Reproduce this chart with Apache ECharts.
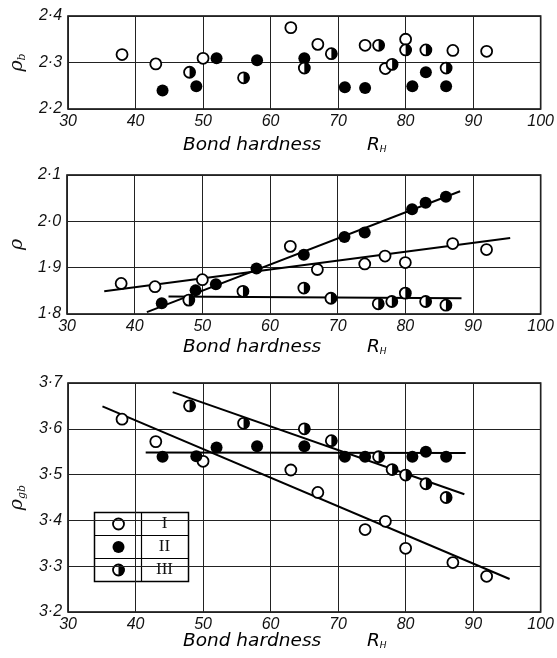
<!DOCTYPE html>
<html>
<head>
<meta charset="utf-8">
<script src="https://cdn.jsdelivr.net/npm/echarts@6/dist/echarts.min.js"></script>
<style>
  html, body { margin: 0; padding: 0; background: #fff; }
  #chart { width: 557px; height: 658px; }
</style>
</head>
<body>
<div id="chart"></div>
<script>
  // bond hardness R_H of the samples in each group
  const hardI = [38, 43, 50, 63, 67, 74, 77, 80, 87, 92];
  const hardII = [44, 49, 52, 58, 65, 71, 74, 81, 83, 86];
  const hardIII = [48, 56, 65, 69, 76, 78, 80, 83, 86];

  // top panel: rho_b
  const rhoBI = [2.317, 2.297, 2.309, 2.375, 2.339, 2.337, 2.287, 2.35, 2.326, 2.324];
  const rhoBII = [2.24, 2.249, 2.309, 2.305, 2.309, 2.247, 2.245, 2.249, 2.279, 2.249];
  const rhoBIII = [2.279, 2.267, 2.288, 2.319, 2.337, 2.296, 2.327, 2.327, 2.288];

  // middle panel: rho
  const rhoI = [1.866, 1.859, 1.874, 1.946, 1.896, 1.908, 1.925, 1.911, 1.952, 1.939];
  const rhoII = [1.823, 1.851, 1.864, 1.898, 1.928, 1.966, 1.976, 2.026, 2.04, 2.053];
  const rhoIII = [1.83, 1.849, 1.856, 1.834, 1.822, 1.827, 1.845, 1.827, 1.819];

  // bottom panel: rho_gb
  const rhoGbI = [3.621, 3.572, 3.529, 3.51, 3.461, 3.38, 3.398, 3.339, 3.308, 3.278];
  const rhoGbII = [3.539, 3.54, 3.559, 3.562, 3.562, 3.539, 3.539, 3.539, 3.55, 3.539];
  const rhoGbIII = [3.65, 3.612, 3.6, 3.574, 3.539, 3.511, 3.499, 3.48, 3.45];

  // hand drawn fit lines, end points [R_H, value]
  const fitRhoI = [[35.5, 1.849], [95.5, 1.964]];
  const fitRhoII = [[41.8, 1.804], [88.1, 2.065]];
  const fitRhoIII = [[45, 1.838], [88.3, 1.834]];
  const fitGbI = [[35.1, 3.649], [95.4, 3.272]];
  const fitGbII = [[41.5, 3.548], [88.9, 3.547]];
  const fitGbIII = [[45.5, 3.68], [88.7, 3.457]];

  // tick labels
  const xTickLabels = ['30', '40', '50', '60', '70', '80', '90', '100'];
  const yTicksB = [2.2, 2.3, 2.4];
  const yLabelsB = ['2·2', '2·3', '2·4'];
  const yTicksRho = [1.8, 1.9, 2.0, 2.1];
  const yLabelsRho = ['1·8', '1·9', '2·0', '2·1'];
  const yTicksGb = [3.2, 3.3, 3.4, 3.5, 3.6, 3.7];
  const yLabelsGb = ['3·2', '3·3', '3·4', '3·5', '3·6', '3·7'];
  const groupNames = ['I', 'II', 'III'];

  const halfDisc = 'path://M0,0 A10,10 0 0 1 0,20 Z';
  const tickFont = { fontFamily: 'Liberation Sans', fontStyle: 'italic', fontSize: 16, color: '#111' };

  function pts(xs, ys) {
    return xs.map((x, i) => [x, ys[i]]);
  }

  function pick(ticks, labels) {
    return (v) => {
      const i = ticks.findIndex((t) => Math.abs(t - v) < 1e-6);
      return i < 0 ? '' : labels[i];
    };
  }

  function xAxis(idx) {
    return {
      gridIndex: idx,
      type: 'value',
      min: 30,
      max: 100,
      interval: 10,
      axisLine: { show: false },
      axisTick: { show: false },
      axisLabel: Object.assign({ margin: 5, formatter: (v) => xTickLabels[(v - 30) / 10] }, tickFont),
      splitLine: { lineStyle: { color: '#222', width: 1 } },
    };
  }

  function yAxis(idx, ticks, labels, sub) {
    return {
      gridIndex: idx,
      type: 'value',
      min: ticks[0],
      max: ticks[ticks.length - 1],
      interval: 0.1,
      axisLine: { show: false },
      axisTick: { show: false },
      axisLabel: Object.assign({ margin: 6, formatter: pick(ticks, labels) }, tickFont),
      splitLine: { lineStyle: { color: '#222', width: 1 } },
      name: sub ? '{r|ρ}{s|' + sub + '}' : '{r|ρ}',
      nameLocation: 'middle',
      nameGap: 40,
      nameTextStyle: {
        rich: {
          r: { fontFamily: 'DejaVu Serif', fontStyle: 'italic', fontSize: 19, color: '#111' },
          s: { fontFamily: 'DejaVu Serif', fontStyle: 'italic', fontSize: 11, color: '#111', padding: [10, 0, 0, 0] },
        },
      },
    };
  }

  function points(idx, I, II, III) {
    const base = { type: 'scatter', xAxisIndex: idx, yAxisIndex: idx, z: 5 };
    return [
      Object.assign({}, base, {
        name: groupNames[0], data: pts(hardI, I), symbolSize: 11,
        itemStyle: { color: '#fff', borderColor: '#000', borderWidth: 1.8, opacity: 1 },
      }),
      Object.assign({}, base, {
        name: groupNames[1], data: pts(hardII, II), symbolSize: 12,
        itemStyle: { color: '#000', opacity: 1 },
      }),
      Object.assign({}, base, {
        name: groupNames[2], data: pts(hardIII, III), symbolSize: 11,
        itemStyle: { color: '#fff', borderColor: '#000', borderWidth: 1.8, opacity: 1 },
      }),
      Object.assign({}, base, {
        name: groupNames[2], data: pts(hardIII, III), symbol: halfDisc,
        symbolSize: [5.8, 11.6], symbolOffset: [2.9, 0], z: 6,
        itemStyle: { color: '#000', opacity: 1 },
      }),
    ];
  }

  function fitLine(idx, data) {
    return {
      type: 'line', xAxisIndex: idx, yAxisIndex: idx, data: data, z: 3,
      symbol: 'none', lineStyle: { color: '#000', width: 2 },
    };
  }

  function caption(top) {
    return {
      type: 'text', left: 183, top: top,
      style: {
        text: '{b|Bond hardness}{r|R}{s|H}',
        rich: {
          b: { fontFamily: 'DejaVu Sans', fontStyle: 'italic', fontSize: 18.5, color: '#111', width: 184 },
          r: { fontFamily: 'DejaVu Sans', fontStyle: 'italic', fontSize: 18.5, color: '#111' },
          s: { fontFamily: 'DejaVu Sans', fontStyle: 'italic', fontSize: 9, color: '#111', padding: [9, 0, 0, 0] },
        },
      },
    };
  }

  // key table in the bottom panel
  const key = {
    type: 'group', left: 92, top: 510, z: 100,
    children: [
      { type: 'rect', shape: { x: 0, y: 0, width: 94, height: 69 }, style: { fill: '#fff', stroke: '#000', lineWidth: 1.5 } },
      { type: 'line', shape: { x1: 47, y1: 0, x2: 47, y2: 69 }, style: { stroke: '#000', lineWidth: 1.2 } },
      { type: 'line', shape: { x1: 0, y1: 23, x2: 94, y2: 23 }, style: { stroke: '#000', lineWidth: 1.2 } },
      { type: 'line', shape: { x1: 0, y1: 46, x2: 94, y2: 46 }, style: { stroke: '#000', lineWidth: 1.2 } },
      { type: 'circle', shape: { cx: 24, cy: 11.5, r: 5.5 }, style: { fill: '#fff', stroke: '#000', lineWidth: 1.8 } },
      { type: 'circle', shape: { cx: 24, cy: 34.5, r: 6 }, style: { fill: '#000' } },
      { type: 'circle', shape: { cx: 24, cy: 57.5, r: 5.5 }, style: { fill: '#fff', stroke: '#000', lineWidth: 1.8 } },
      { type: 'sector', shape: { cx: 24, cy: 57.5, r0: 0, r: 6, startAngle: -Math.PI / 2, endAngle: Math.PI / 2, clockwise: true }, style: { fill: '#000' } },
    ].concat(groupNames.map((g, i) => ({
      type: 'text', x: 70, y: 11.5 + 23 * i,
      style: { text: g, fontFamily: 'Liberation Serif', fontSize: 17, fill: '#111', align: 'center', verticalAlign: 'middle' },
    }))),
  };

  const chart = echarts.init(document.getElementById('chart'));
  chart.setOption({
    backgroundColor: '#fff',
    animation: false,
    grid: [
      { left: 62, top: 16, width: 480, height: 93, show: true, borderColor: '#000', borderWidth: 1.6 },
      { left: 62, top: 175, width: 480, height: 139, show: true, borderColor: '#000', borderWidth: 1.6 },
      { left: 62, top: 383, width: 480, height: 229, show: true, borderColor: '#000', borderWidth: 1.6 },
    ],
    xAxis: [xAxis(0), xAxis(1), xAxis(2)],
    yAxis: [
      yAxis(0, yTicksB, yLabelsB, 'b'),
      yAxis(1, yTicksRho, yLabelsRho, ''),
      yAxis(2, yTicksGb, yLabelsGb, 'gb'),
    ],
    graphic: [caption(136), caption(338), caption(632), key],
    series: [
      ...points(0, rhoBI, rhoBII, rhoBIII),
      fitLine(1, fitRhoI),
      fitLine(1, fitRhoII),
      fitLine(1, fitRhoIII),
      ...points(1, rhoI, rhoII, rhoIII),
      fitLine(2, fitGbI),
      fitLine(2, fitGbII),
      fitLine(2, fitGbIII),
      ...points(2, rhoGbI, rhoGbII, rhoGbIII),
    ],
  });
</script>
</body>
</html>
